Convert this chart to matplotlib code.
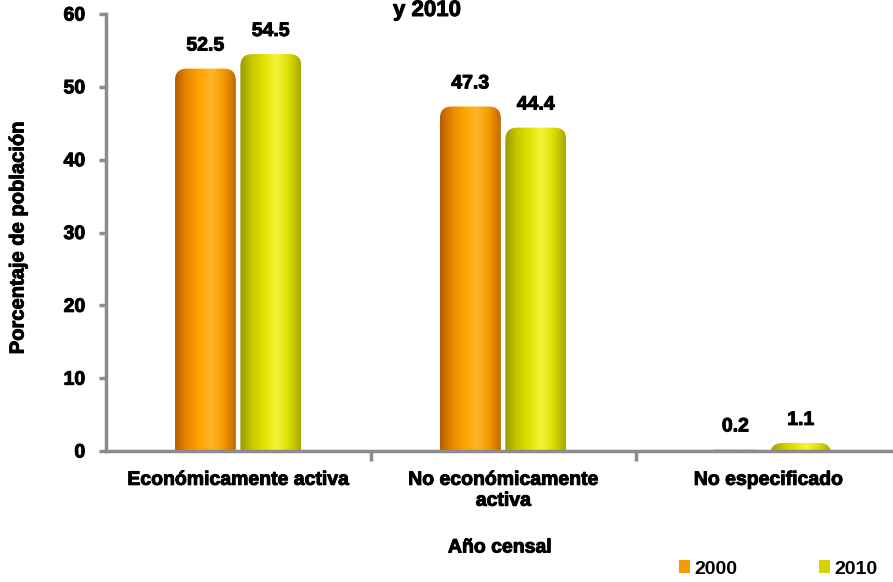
import numpy as np
import matplotlib.pyplot as plt
import matplotlib.patheffects as pe
from matplotlib.patches import FancyBboxPatch, Patch
from matplotlib.colors import LinearSegmentedColormap

categorias = ["Económicamente activa", "No económicamente\nactiva", "No especificado"]
anios = ["2000", "2010"]
valores_2000 = [52.5, 47.3, 0.2]
valores_2010 = [54.5, 44.4, 1.1]

plt.rcParams['font.family'] = ['Liberation Sans', 'DejaVu Sans']
plt.rcParams['font.weight'] = 'bold'
grueso = [pe.withStroke(linewidth=0.7, foreground="black")]

cmap_naranja = LinearSegmentedColormap.from_list(
    "nar", ["#b85c00", "#e88a00", "#ffa200", "#ffb52a", "#f59a00", "#c06800"])
cmap_amarillo = LinearSegmentedColormap.from_list(
    "ama", ["#9a9a00", "#c8c800", "#e2e200", "#f4f43a", "#dcdc00", "#a8a800"])

fig = plt.figure(figsize=(8.93, 5.82), dpi=100)
ax = fig.add_axes([106 / 893, 131 / 582, 795 / 893, 437 / 582])

x = np.arange(len(categorias))
w = 0.23
b1 = ax.bar(x - 0.125, valores_2000, w, color="none")
b2 = ax.bar(x + 0.122, valores_2010, w, color="none")

ax.set_xlim(-0.5, 2.5)
ax.set_ylim(0, 60)

# gradient cylinder-like bars with rounded tops
grad = np.linspace(0, 1, 256).reshape(1, -1)
asp = (60 / 437) / (3 / 795)
for bars, cmap in [(b1, cmap_naranja), (b2, cmap_amarillo)]:
    for r in bars:
        x0, wd, h = r.get_x(), r.get_width(), r.get_height()
        p = FancyBboxPatch((x0, -4), wd, h + 4,
                           boxstyle="round,pad=0,rounding_size=0.045",
                           mutation_aspect=asp, facecolor="none",
                           edgecolor="none", zorder=2)
        ax.add_patch(p)
        im = ax.imshow(grad, cmap=cmap, aspect="auto",
                       extent=(x0, x0 + wd, 0, h), zorder=2)
        im.set_clip_path(p)

for bars, vals in [(b1, valores_2000), (b2, valores_2010)]:
    for r, v in zip(bars, vals):
        ax.text(r.get_x() + r.get_width() / 2, v + 3.1, f"{v}",
                ha="center", va="center", fontsize=14, fontweight="bold",
                path_effects=grueso)

for s in ["top", "right"]:
    ax.spines[s].set_visible(False)
for s in ["left", "bottom"]:
    ax.spines[s].set_color("#8c8c8c")
    ax.spines[s].set_linewidth(2.5)

ax.set_yticks(range(0, 61, 10))
ax.tick_params(axis="y", colors="#8c8c8c", width=2.5, length=5, pad=10,
               labelsize=14, labelcolor="black")
ax.set_xticks(x)
ax.set_xticklabels(categorias, fontsize=14, fontweight="bold", linespacing=1.3)
ax.tick_params(axis="x", length=0, pad=15)
ax.set_xticks([0.5, 1.5], minor=True)
ax.tick_params(axis="x", which="minor", length=7, width=2.5, colors="#8c8c8c")
for t in ax.get_xticklabels() + ax.get_yticklabels():
    t.set_path_effects(grueso)

fig.text(18 / 893, 1 - 238 / 582, "Porcentaje de población", rotation=90,
         ha="center", va="center", fontsize=14.5, fontweight="bold",
         path_effects=grueso)
fig.text(500 / 893, 1 - 548 / 582, "Año censal", ha="center", va="center",
         fontsize=14, fontweight="bold", path_effects=grueso)
fig.text(427 / 893, 1.0, "y 2010", ha="center", va="top",
         fontsize=16, fontweight="bold", path_effects=grueso)

handles = [Patch(facecolor="#f59a00"), Patch(facecolor="#d4d400")]
fig.legend(handles, anios, loc="center", bbox_to_anchor=(778 / 893, 1 - 569 / 582),
           ncol=2, frameon=False, fontsize=14, handlelength=0.6, handleheight=0.6,
           handletextpad=0.2, columnspacing=4.2,
           prop={"weight": "bold", "size": 14})

fig.savefig("out.png", dpi=100)
